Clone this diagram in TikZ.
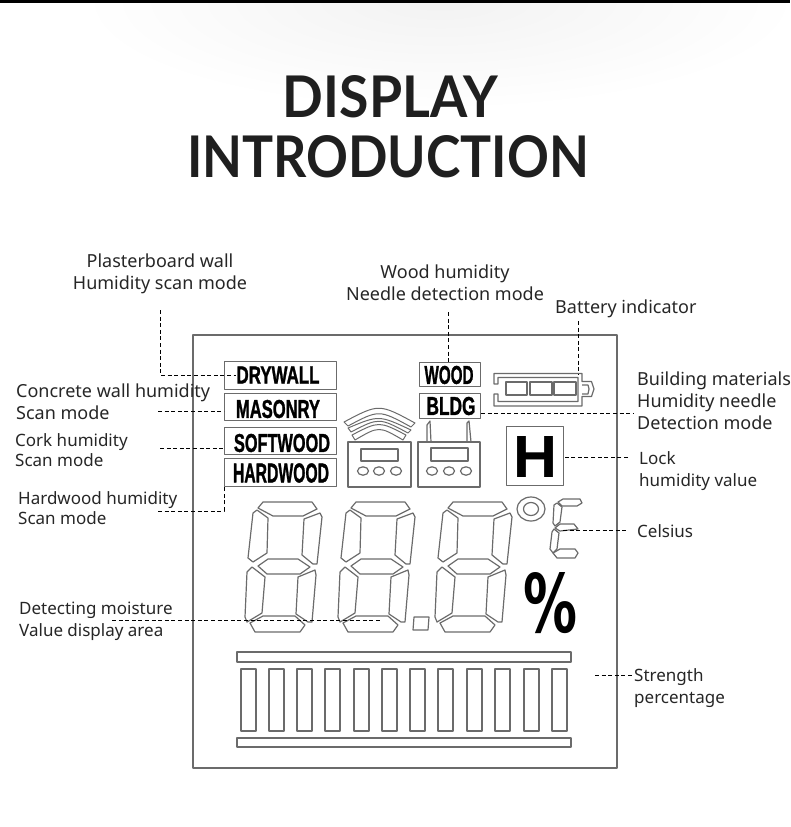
\documentclass[tikz,border=0pt]{standalone}
\usepackage{fontspec}
\usepackage{graphicx}
\setmainfont{Noto Sans}
\newfontfamily\titlefont{Lato Bold}
\newfontfamily\lcdfont[FakeBold=1.5]{Liberation Sans Bold}
\newfontfamily\lockfont{Liberation Sans Bold}
\newfontfamily\pctfont{DejaVu Sans Bold}

\tikzset{
  lcd/.style={draw=black!58, line width=1.2pt, line join=round, fill=white},
  lcdbox/.style={lcd, inner sep=0pt, anchor=north west},
  lcdword/.style={inner sep=0pt, text=black},
  leader/.style={black, line width=0.9pt, dash pattern=on 4pt off 2.6pt},
  callout/.style={anchor=west, inner sep=0pt, align=left, text=black!85,
    font=\fontsize{18}{22}\selectfont},
  calloutsmall/.style={callout, font=\fontsize{17}{22}\selectfont},
  callouttight/.style={callout, font=\fontsize{17}{20}\selectfont},
  titleword/.style={inner sep=0pt, text=black!88, font=\titlefont\fontsize{58}{60}\selectfont}
}

\begin{document}
\begin{tikzpicture}[x=1pt, y=-1pt]
  \useasboundingbox (0,0) rectangle (790,827);

  % Page top
  \begin{scope}
    \clip (0,0) rectangle (790,130);
    \shade[inner color=black!5, outer color=white] (440,0) ellipse (360 and 110);
  \end{scope}
  \fill[black] (0,0) rectangle (790,2.5);

  % Title
  \node[titleword] (titleTop) at (390.5,96.5) {\resizebox{215pt}{42pt}{DISPLAY}};
  \node[titleword] (titleBottom) at (388,156.5) {\resizebox{402pt}{42pt}{INTRODUCTION}};

  % Screen frame
  \draw[lcd, line width=1.5pt, fill=none] (193,335) rectangle (617,768);

  % Mode boxes
  \node[lcdbox, minimum width=112pt, minimum height=28pt] (drywallBox) at (224,361) {};
  \node[lcdbox, minimum width=112pt, minimum height=27pt] (masonryBox) at (224,393) {};
  \node[lcdbox, minimum width=112pt, minimum height=27pt] (softwoodBox) at (224,427) {};
  \node[lcdbox, minimum width=112pt, minimum height=28pt] (hardwoodBox) at (224,458) {};
  \node[lcdbox, minimum width=61pt, minimum height=24pt] (woodBox) at (419,362) {};
  \node[lcdbox, minimum width=61pt, minimum height=25pt] (bldgBox) at (419,393) {};

  \node[lcdword] (drywallWord) at (278,375) {\resizebox{83pt}{17pt}{\lcdfont DRYWALL}};
  \node[lcdword] (masonryWord) at (278,409) {\resizebox{84pt}{18pt}{\lcdfont MASONRY}};
  \node[lcdword] (softwoodWord) at (282,443) {\resizebox{96pt}{18pt}{\lcdfont SOFTWOOD}};
  \node[lcdword] (hardwoodWord) at (281,473) {\resizebox{96pt}{19pt}{\lcdfont HARDWOOD}};
  \node[lcdword] (woodWord) at (449,375) {\resizebox{49pt}{18pt}{\lcdfont WOOD}};
  \node[lcdword] (bldgWord) at (451,406) {\resizebox{49pt}{18pt}{\lcdfont BLDG}};

  % Battery
  \draw[lcd] (494,384) -- (494,373.5) -- (582,373.5) -- (582,381.5) -- (591.5,381.5) -- (594,389)
    -- (591.5,396.5) -- (582,396.5) -- (582,406) -- (494,406) -- (494,394) -- (498,394)
    -- (498,401.5) -- (578,401.5) -- (578,377.5) -- (498,377.5) -- (498,384) -- cycle;
  \draw[lcd] (582,385) -- (588,385) -- (589,389) -- (588,394) -- (582,394);
  \draw[lcd] (506,382) rectangle (527,395);
  \draw[lcd] (530,382) rectangle (552,395);
  \draw[lcd] (554,382) rectangle (576,395);

  % Lock
  \node[lcdbox, minimum width=57pt, minimum height=59pt] (lockBox) at (506,426) {};
  \node[lcdword] (lockWord) at (535.5,456.5) {\resizebox{44pt}{41pt}{\lockfont H}};

  % Signal meter
  \draw[lcd, line width=1pt] (344,422) .. controls (379,403.5) .. (415,423) -- (411,427)
    .. controls (379,409.5) .. (348,426) -- cycle;
  \draw[lcd, line width=1pt] (348,428) .. controls (379,415) .. (411,430) -- (408,433)
    .. controls (379,417.5) .. (351,432) -- cycle;
  \draw[lcd, line width=1pt] (352,435) .. controls (379,421) .. (406,435) -- (403,440)
    .. controls (379,426) .. (355,440) -- cycle;
  \draw[lcd] (348,442) rectangle (411,487);
  \draw[lcd] (361,449) rectangle (398,461);
  \foreach \x in {363,379,396}
    \draw[lcd] (\x,471) ellipse (5.5 and 4.2);

  % Needle meter
  \draw[lcd] (427,442) -- (427,425) -- (430,421) -- (431,442);
  \draw[lcd] (467,442) -- (467,423) -- (469,421) -- (471,442);
  \draw[lcd] (418,442) rectangle (480,487);
  \draw[lcd] (431,448) rectangle (468,461);
  \foreach \x in {432,449,466}
    \draw[lcd] (\x,471) ellipse (5.5 and 4.2);

  % Digits
  \def\lcddigit#1{
    \begin{scope}[xshift=#1pt, yshift=-490pt]
      \draw[lcd] (33,12) -- (82,12) -- (87,19) -- (73,26) -- (43,26) -- (28,18) -- cycle;
      \draw[lcd] (27,20) -- (38,28) -- (37,63) -- (23,72) -- (18,68) -- (23,23) -- cycle;
      \draw[lcd] (90,23) -- (92,27) -- (87,74) -- (83,74) -- (72,65) -- (74,29) -- cycle;
      \draw[lcd] (28,76) -- (38,69) -- (68,69) -- (80,77) -- (70,84) -- (37,84) -- cycle;
      \draw[lcd] (22,77) -- (35,87) -- (32,123) -- (17,132) -- (15,127) -- (17,82) -- cycle;
      \draw[lcd] (85,80) -- (86,85) -- (82,132) -- (78,132) -- (66,124) -- (68,87) -- cycle;
      \draw[lcd] (20,133) -- (33,126) -- (65,126) -- (75,135) -- (70,142) -- (25,142) -- cycle;
    \end{scope}
  }
  \lcddigit{230}
  \lcddigit{323}
  \lcddigit{420}
  \draw[lcd] (414,617) -- (429,617) -- (428,630) -- (413,630) -- cycle;

  % Degree and unit
  \draw[lcd] (531,509) ellipse (14 and 12);
  \draw[lcd] (531,509) ellipse (7.5 and 6.5);
  \draw[lcd] (558,502) -- (563,499) -- (580,499) -- (582,503) -- (577,506) -- (562,506) -- cycle;
  \draw[lcd] (557,503) -- (562,507) -- (560,522) -- (555,526) -- (553,523) -- (554,505) -- cycle;
  \draw[lcd] (555,528) -- (560,524) -- (574,524) -- (578,529) -- (560,531) -- cycle;
  \draw[lcd] (554,529) -- (559,533) -- (557,549) -- (553,553) -- (550,549) -- (552,532) -- cycle;
  \draw[lcd] (553,553) -- (560,549) -- (575,549) -- (578,553) -- (575,558) -- (557,558) -- cycle;
  \node[lcdword] (percentWord) at (550.5,603) {\resizebox{54pt}{60pt}{\pctfont \%}};

  % Strength bars
  \draw[lcd] (237,652) rectangle (571,662);
  \draw[lcd] (237,738) rectangle (571,747);
  \foreach \x in {241,269,297,325,354,382,410,438,467,495,524,552}
    \draw[lcd] (\x,669) rectangle (\x+15,731);

  % Labels
  \node[callout, anchor=center, align=center] (plasterLabel) at (160,274) {Plasterboard wall\\Humidity scan mode};
  \node[callout, anchor=center, align=center] (woodLabel) at (445,283) {Wood humidity\\Needle detection mode};
  \node[callout] (batteryLabel) at (555,309) {Battery indicator};
  \node[callout] (bldgLabel) at (637,401) {Building materials\\Humidity needle\\Detection mode};
  \node[calloutsmall] (lockLabel) at (639,471) {Lock\\humidity value};
  \node[calloutsmall] (celsiusLabel) at (637,531) {Celsius};
  \node[calloutsmall] (strengthLabel) at (634,688) {Strength\\percentage};
  \node[callout] (concreteLabel) at (16,402) {Concrete wall humidity\\Scan mode};
  \node[callouttight] (corkLabel) at (15,450) {Cork humidity\\Scan mode};
  \node[callouttight] (hardwoodLabel) at (18,508) {Hardwood humidity\\Scan mode};
  \node[calloutsmall] (moistureLabel) at (19,621) {Detecting moisture\\Value display area};

  % Leaders
  \coordinate (plasterEnd) at (160,310);
  \coordinate (woodEnd) at (448,312);
  \coordinate (batteryEnd) at (578,321);
  \coordinate (batteryTip) at (578,375);
  \coordinate (bldgStart) at (481,413);
  \coordinate (bldgEnd) at (634,413);
  \coordinate (lockEnd) at (628,457);
  \coordinate (celsiusStart) at (563,530);
  \coordinate (celsiusEnd) at (628,530);
  \coordinate (strengthStart) at (595,675);
  \coordinate (strengthEnd) at (632,675);
  \coordinate (concreteEnd) at (158,411);
  \coordinate (corkEnd) at (160,448);
  \coordinate (hardwoodEnd) at (158,511);
  \coordinate (moistureStart) at (112,620);
  \coordinate (moistureEnd) at (380,620);

  \draw[leader] (plasterEnd) |- (drywallWord.west);
  \draw[leader] (woodEnd) -- (woodBox.north -| woodEnd);
  \draw[leader] (batteryEnd) -- (batteryTip);
  \draw[leader] (bldgStart) -- (bldgEnd);
  \draw[leader] (lockEnd) -- (lockEnd -| lockBox.east);
  \draw[leader] (celsiusStart) -- (celsiusEnd);
  \draw[leader] (strengthStart) -- (strengthEnd);
  \draw[leader] (concreteEnd) -- (concreteEnd -| masonryBox.west);
  \draw[leader] (corkEnd) -- (corkEnd -| softwoodBox.west);
  \draw[leader] (hardwoodEnd) -| (hardwoodBox.south west);
  \draw[leader] (moistureStart) -- (moistureEnd);

\end{tikzpicture}
\end{document}
